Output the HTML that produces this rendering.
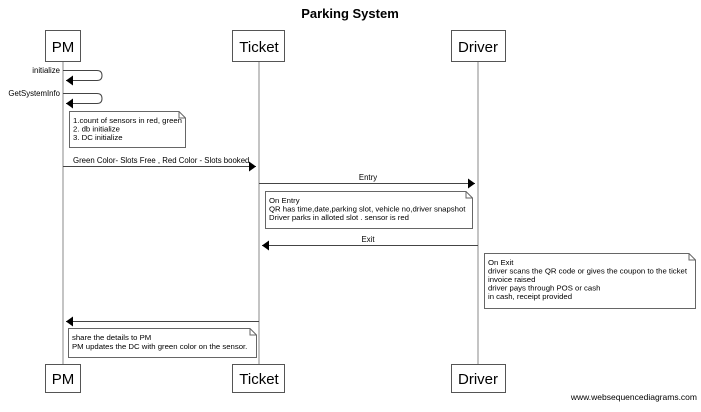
<!DOCTYPE html>
<html><head><style>
body{margin:0;background:#fff;}
svg text{font-family:"Liberation Sans",Arial,sans-serif;}
</style></head><body>
<svg width="701" height="407" viewBox="0 0 701 407" xmlns="http://www.w3.org/2000/svg">
<defs><marker id="a" markerWidth="8" markerHeight="10" refX="7" refY="5" orient="auto" markerUnits="userSpaceOnUse"><path d="M0,0 L7,5 L0,10 Z" fill="#000"/></marker></defs>
<text x="350" y="18" font-size="13" font-weight="bold" text-anchor="middle">Parking System</text>
<g stroke="#888" stroke-width="1">
<line x1="63" y1="62" x2="63" y2="365"/>
<line x1="259" y1="62" x2="259" y2="365"/>
<line x1="478" y1="62" x2="478" y2="365"/>
</g>
<g fill="#fff" stroke="#555">
<rect x="45.5" y="30.5" width="35" height="31"/>
<rect x="232.5" y="30.5" width="52" height="31"/>
<rect x="451.5" y="30.5" width="54" height="31"/>
<rect x="45.5" y="364.5" width="35" height="28"/>
<rect x="232.5" y="364.5" width="52" height="28"/>
<rect x="451.5" y="364.5" width="54" height="28"/>
</g>
<g font-size="15" text-anchor="middle">
<text x="63" y="52">PM</text><text x="259" y="52">Ticket</text><text x="478" y="52">Driver</text>
<text x="63" y="384">PM</text><text x="259" y="384">Ticket</text><text x="478" y="384">Driver</text>
</g>
<g stroke="#444" fill="none" stroke-width="1">
<path d="M63,70.5 H97 Q102,70.5 102,75.5 Q102,80.5 97,80.5 H66" marker-end="url(#a)"/>
<path d="M63,93.5 H97 Q102,93.5 102,98.5 Q102,103.5 97,103.5 H66" marker-end="url(#a)"/>
<line x1="63" y1="166.5" x2="256" y2="166.5" marker-end="url(#a)"/>
<line x1="259" y1="183.5" x2="475" y2="183.5" marker-end="url(#a)"/>
<line x1="478" y1="245.5" x2="262" y2="245.5" marker-end="url(#a)"/>
<line x1="259" y1="321.5" x2="66" y2="321.5" marker-end="url(#a)"/>
</g>
<g font-size="7.8">
<text x="60" y="73" text-anchor="end">initialize</text>
<text x="60" y="96" text-anchor="end">GetSystemInfo</text>
<text x="73" y="163">Green Color- Slots Free , Red Color - Slots booked</text>
<text x="368" y="180" text-anchor="middle">Entry</text>
<text x="368" y="242" text-anchor="middle">Exit</text>
</g>
<g fill="#fff" stroke="#666">
<path d="M69.5,111.5 H179 L185.5,118 V147.5 H69.5 Z"/><path d="M179,111.5 V118 H185.5" fill="none"/>
<path d="M265.5,191.5 H466 L472.5,198 V228.5 H265.5 Z"/><path d="M466,191.5 V198 H472.5" fill="none"/>
<path d="M484.5,253.5 H689 L695.5,260 V308.5 H484.5 Z"/><path d="M689,253.5 V260 H695.5" fill="none"/>
<path d="M68.5,328.5 H250 L256.5,335 V357.5 H68.5 Z"/><path d="M250,328.5 V335 H256.5" fill="none"/>
</g>
<g font-size="7.75">
<text x="73" y="123">1.count of sensors in red, green</text>
<text x="73" y="131.5">2. db initialize</text>
<text x="73" y="140">3. DC initialize</text>
<text x="269" y="203">On Entry</text>
<text x="269" y="211.5">QR has time,date,parking slot, vehicle no,driver snapshot</text>
<text x="269" y="220">Driver parks in alloted slot . sensor is red</text>
<text x="488" y="265">On Exit</text>
<text x="488" y="273.5">driver scans the QR code or gives the coupon to the ticket</text>
<text x="488" y="282">invoice raised</text>
<text x="488" y="290.5">driver pays through POS or cash</text>
<text x="488" y="299">in cash, receipt provided</text>
<text x="72" y="340">share the details to PM</text>
<text x="72" y="349">PM updates the DC with green color on the sensor.</text>
<text x="697" y="400" text-anchor="end" font-size="8.5">www.websequencediagrams.com</text>
</g>
</svg>
</body></html>
